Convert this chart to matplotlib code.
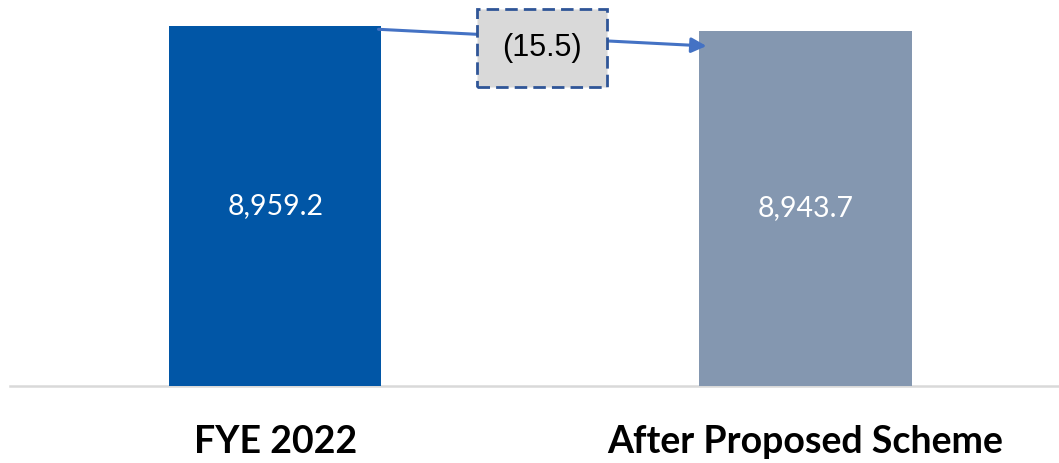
import matplotlib
matplotlib.use("Agg")
import matplotlib.pyplot as plt
from matplotlib.patches import Rectangle

categories = ["FYE 2022", "After Proposed Scheme"]
values = [8959.2, 8943.7]
value_labels = ["8,959.2", "8,943.7"]
change_label = "(15.5)"
bar_colors = ["#0156A6", "#8497B0"]

W, H = 1059, 463
fig = plt.figure(figsize=(W / 100, H / 100), dpi=100)
base_px = 386  # baseline from top
ax = fig.add_axes([0, (H - base_px) / H, 1, base_px / H])

ymin, ymax = 7843.2, 9039.8
xlo, xhi = -0.5198, 1.4783
ax.set_xlim(xlo, xhi)
ax.set_ylim(ymin, ymax)
bar_w = 0.4
x = list(range(len(categories)))
ax.bar(x, values, width=bar_w, color=bar_colors, zorder=3)
for s in ax.spines.values():
    s.set_visible(False)
ax.set_yticks([])
ax.set_xticks(x)
ax.set_xticklabels(categories, fontsize=27, fontweight="bold", family="Lato")
ax.tick_params(axis="x", length=0, pad=28)
ax.axhline(ymin, xmin=10 / W, xmax=1, color="#D9D9D9", lw=1.8, zorder=2, clip_on=False)

for xi, v, lab in zip(x, values, value_labels):
    ax.text(xi, (ymin + v) / 2, lab, ha="center", va="center", color="white",
            fontsize=20.5, family="Lato", zorder=4)

# connector arrow
units_per_px = (ymax - ymin) / base_px
x0 = x[0] + bar_w / 2 - 3 / 530
y0 = values[0] - 3.3 * units_per_px
x1 = x[1] - bar_w / 2 + 7 / 530
y1 = values[1] - 15 * units_per_px
ax.annotate("", xy=(x1, y1), xytext=(x0, y0),
            arrowprops=dict(arrowstyle="-|>,head_length=0.9,head_width=0.45",
                            color="#4472C4", lw=2.2, shrinkA=0, shrinkB=0),
            zorder=5)

# change box
bx, by, bw, bh = 477, 9, 130, 78
rect = Rectangle((bx / W, 1 - (by + bh) / H), bw / W, bh / H, transform=fig.transFigure,
                 facecolor="#D9D9D9", edgecolor="#2F5597", lw=2.0, ls=(0, (4.5, 2.2)),
                 zorder=10)
fig.add_artist(rect)
fig.text((bx + bw / 2) / W, 1 - (by + bh / 2) / H, change_label, ha="center", va="center",
         fontsize=22, family="Liberation Sans", color="black", zorder=11)

fig.savefig("out.png", dpi=100)
